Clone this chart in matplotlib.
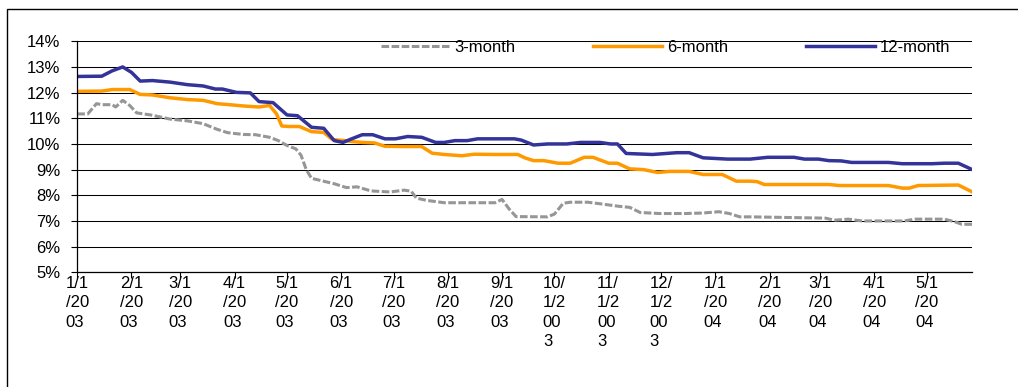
import matplotlib
matplotlib.use("Agg")
import matplotlib.pyplot as plt
import pandas as pd
from matplotlib.patches import Rectangle
from matplotlib.ticker import FuncFormatter

# Treasury bill yields (%), sampled along each curve
dates_3m = ["2003-01-01", "2003-01-07", "2003-01-12", "2003-01-15", "2003-01-21", "2003-01-23",
            "2003-01-27", "2003-01-31", "2003-02-04", "2003-02-12", "2003-02-23", "2003-03-05",
            "2003-03-14", "2003-03-22", "2003-03-28", "2003-04-06", "2003-04-13", "2003-04-21",
            "2003-04-26", "2003-05-01", "2003-05-06", "2003-05-09", "2003-05-12", "2003-05-15",
            "2003-05-20", "2003-05-28", "2003-06-04", "2003-06-10", "2003-06-18", "2003-06-29",
            "2003-07-07", "2003-07-11", "2003-07-14", "2003-07-20", "2003-07-30", "2003-08-12",
            "2003-08-28", "2003-09-01", "2003-09-05", "2003-09-09", "2003-09-27", "2003-10-01",
            "2003-10-06", "2003-10-10", "2003-10-20", "2003-10-27", "2003-11-07", "2003-11-13",
            "2003-11-19", "2003-11-30", "2003-12-15", "2003-12-25", "2004-01-03", "2004-01-09",
            "2004-01-15", "2004-01-21", "2004-03-04", "2004-03-09", "2004-03-17", "2004-03-25",
            "2004-04-18", "2004-04-24", "2004-05-11", "2004-05-17", "2004-05-21", "2004-05-27"]
rate_3m = [11.17, 11.17, 11.57, 11.53, 11.53, 11.44,
           11.70, 11.50, 11.21, 11.13, 10.97, 10.90,
           10.79, 10.57, 10.44, 10.37, 10.36, 10.26,
           10.13, 9.94, 9.81, 9.56, 9.00, 8.66,
           8.58, 8.45, 8.30, 8.33, 8.17, 8.13,
           8.20, 8.16, 7.89, 7.80, 7.71, 7.71,
           7.71, 7.84, 7.47, 7.17, 7.16, 7.27,
           7.69, 7.73, 7.73, 7.67, 7.57, 7.53,
           7.33, 7.29, 7.29, 7.31, 7.36, 7.29,
           7.16, 7.16, 7.11, 7.03, 7.07, 7.00,
           7.00, 7.07, 7.07, 6.97, 6.87, 6.87]

dates_6m = ["2003-01-01", "2003-01-15", "2003-01-21", "2003-01-31", "2003-02-06", "2003-02-13",
            "2003-02-23", "2003-03-05", "2003-03-14", "2003-03-22", "2003-03-29", "2003-04-06",
            "2003-04-15", "2003-04-21", "2003-04-25", "2003-04-28", "2003-05-02", "2003-05-08",
            "2003-05-15", "2003-05-22", "2003-05-27", "2003-06-03", "2003-06-08", "2003-06-13",
            "2003-06-20", "2003-06-26", "2003-07-06", "2003-07-17", "2003-07-23", "2003-07-30",
            "2003-08-09", "2003-08-16", "2003-08-28", "2003-09-10", "2003-09-14", "2003-09-19",
            "2003-09-25", "2003-10-03", "2003-10-10", "2003-10-18", "2003-10-23", "2003-11-01",
            "2003-11-06", "2003-11-13", "2003-11-21", "2003-11-29", "2003-12-06", "2003-12-17",
            "2003-12-25", "2004-01-05", "2004-01-13", "2004-01-21", "2004-01-25", "2004-01-29",
            "2004-03-06", "2004-03-12", "2004-04-09", "2004-04-17", "2004-04-21", "2004-04-26",
            "2004-05-19", "2004-05-27"]
rate_6m = [12.05, 12.06, 12.12, 12.12, 11.93, 11.91,
           11.80, 11.73, 11.70, 11.57, 11.53, 11.48,
           11.44, 11.50, 11.17, 10.70, 10.68, 10.68,
           10.48, 10.45, 10.17, 10.13, 10.09, 10.06,
           10.04, 9.91, 9.90, 9.90, 9.64, 9.59,
           9.54, 9.60, 9.59, 9.59, 9.46, 9.35,
           9.35, 9.25, 9.25, 9.48, 9.48, 9.25,
           9.25, 9.03, 9.00, 8.89, 8.93, 8.93,
           8.81, 8.81, 8.55, 8.55, 8.53, 8.42,
           8.42, 8.38, 8.38, 8.28, 8.28, 8.38,
           8.40, 8.13]

dates_12m = ["2003-01-01", "2003-01-15", "2003-01-21", "2003-01-27", "2003-02-01", "2003-02-06",
             "2003-02-13", "2003-02-23", "2003-03-05", "2003-03-14", "2003-03-21", "2003-03-25",
             "2003-04-02", "2003-04-10", "2003-04-15", "2003-04-23", "2003-05-01", "2003-05-07",
             "2003-05-15", "2003-05-22", "2003-05-28", "2003-06-02", "2003-06-07", "2003-06-13",
             "2003-06-19", "2003-06-26", "2003-07-02", "2003-07-09", "2003-07-17", "2003-07-25",
             "2003-07-30", "2003-08-05", "2003-08-12", "2003-08-18", "2003-08-28", "2003-09-08",
             "2003-09-12", "2003-09-19", "2003-09-27", "2003-10-08", "2003-10-16", "2003-10-27",
             "2003-11-02", "2003-11-06", "2003-11-11", "2003-11-26", "2003-12-04", "2003-12-10",
             "2003-12-17", "2003-12-25", "2004-01-08", "2004-01-21", "2004-01-31", "2004-02-15",
             "2004-02-21", "2004-02-29", "2004-03-06", "2004-03-13", "2004-03-19", "2004-04-09",
             "2004-04-17", "2004-05-04", "2004-05-11", "2004-05-19", "2004-05-27"]
rate_12m = [12.63, 12.64, 12.85, 13.00, 12.79, 12.45,
            12.47, 12.41, 12.31, 12.26, 12.14, 12.14,
            12.01, 11.99, 11.65, 11.61, 11.13, 11.10,
            10.65, 10.61, 10.13, 10.06, 10.20, 10.36,
            10.36, 10.20, 10.20, 10.29, 10.26, 10.06,
            10.06, 10.13, 10.13, 10.20, 10.20, 10.20,
            10.15, 9.96, 10.00, 10.00, 10.06, 10.06,
            10.00, 10.00, 9.63, 9.59, 9.63, 9.66,
            9.66, 9.46, 9.41, 9.41, 9.48, 9.48,
            9.41, 9.41, 9.35, 9.34, 9.28, 9.28,
            9.23, 9.23, 9.25, 9.25, 9.00]

tick_dates = pd.date_range("2003-01-01", "2004-05-01", freq="MS")
tick_labels = ["1/1\n/20\n03", "2/1\n/20\n03", "3/1\n/20\n03", "4/1\n/20\n03",
               "5/1\n/20\n03", "6/1\n/20\n03", "7/1\n/20\n03", "8/1\n/20\n03",
               "9/1\n/20\n03", "10/\n1/2\n00\n3", "11/\n1/2\n00\n3", "12/\n1/2\n00\n3",
               "1/1\n/20\n04", "2/1\n/20\n04", "3/1\n/20\n04", "4/1\n/20\n04",
               "5/1\n/20\n04"]
y_ticks = [5, 6, 7, 8, 9, 10, 11, 12, 13, 14]

plt.rcParams['font.family'] = ['Liberation Sans', 'DejaVu Sans']
plt.rcParams['font.size'] = 12

fig = plt.figure(figsize=(10.18, 3.87), dpi=100)
fig.add_artist(Rectangle((0.0069, -0.01), 1.0, 0.9855, transform=fig.transFigure,
                         fill=False, edgecolor='black', linewidth=1.0))

ax = fig.add_axes([0.0759, 0.2964, 0.8792, 0.5969])

ax.plot(pd.to_datetime(dates_3m), rate_3m, color='#969696', linewidth=2.2,
        linestyle=(0, (2.5, 0.8)), label='3-month')
ax.plot(pd.to_datetime(dates_6m), rate_6m, color='#FF9900', linewidth=2.5, label='6-month')
ax.plot(pd.to_datetime(dates_12m), rate_12m, color='#333399', linewidth=2.5, label='12-month')

ax.set_xlim(pd.Timestamp(dates_12m[0]), pd.Timestamp(dates_12m[-1]))
ax.set_ylim(5, 14)
ax.set_yticks(y_ticks)
ax.yaxis.set_major_formatter(FuncFormatter(lambda v, _: f"{v:.0f}%"))
ax.set_xticks(tick_dates)
ax.set_xticklabels(tick_labels, ha='center', multialignment='left', linespacing=1.37)

ax.grid(axis='y', color='black', linewidth=0.75)
ax.set_axisbelow(True)
for side in ('top', 'right'):
    ax.spines[side].set_visible(False)
for side in ('left', 'bottom'):
    ax.spines[side].set_linewidth(0.9)
ax.tick_params(axis='both', direction='out', length=4, width=0.8, color='black')
ax.tick_params(axis='y', pad=8)
ax.tick_params(axis='x', pad=-1.5)

ax.legend(loc='center', bbox_to_anchor=(0.657, 0.975), ncol=3, frameon=False,
          handlelength=4.1, handletextpad=0.3, columnspacing=4.7, borderpad=0,
          fontsize=12)

fig.savefig("out.png", dpi=100)
